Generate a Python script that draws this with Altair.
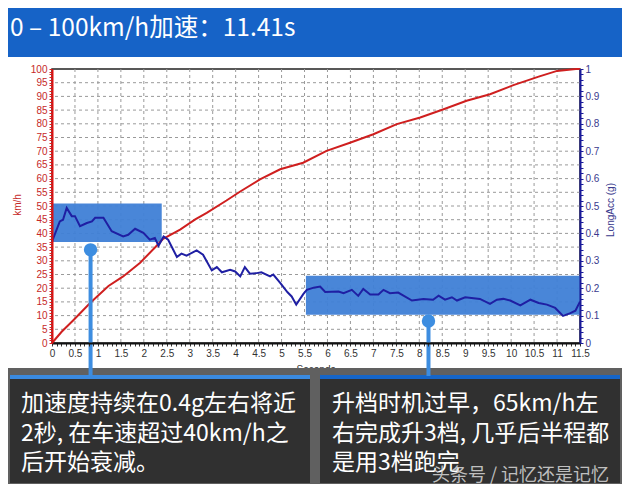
import altair as alt
import pandas as pd

# ---------------- data ----------------
speed_t = [0, 0.21, 0.47, 0.83, 1.23, 1.55, 1.92, 2.28, 2.42, 2.79, 3.12, 3.37, 3.8, 4.1, 4.53,
           4.97, 5.47, 5.98, 6.49, 7.0, 7.51, 8.02, 8.53, 9.03, 9.54, 10.05, 10.6, 11.0, 11.41, 11.5]
speed_v = [0, 4.1, 8.4, 14.6, 20.8, 24.3, 29.3, 35.5, 38.0, 41.4, 45.1, 47.5, 52.0, 55.3, 59.7,
           63.4, 65.8, 70.1, 73.1, 76.2, 79.9, 82.3, 85.3, 88.4, 90.8, 94.1, 97.2, 99.3, 100, 100]

acc_t = [0.0, 0.17, 0.24, 0.32, 0.43, 0.5, 0.61, 0.76, 0.87, 0.94, 1.12, 1.3, 1.55, 1.66, 1.81,
         1.99, 2.13, 2.24, 2.32, 2.43, 2.53, 2.72, 2.82, 2.93, 3.15, 3.29, 3.48, 3.59, 3.7, 3.88,
         3.99, 4.1, 4.2, 4.31, 4.46, 4.56, 4.75, 4.82, 4.97, 5.13, 5.22, 5.32, 5.48, 5.55, 5.7,
         5.84, 5.95, 6.24, 6.35, 6.53, 6.67, 6.78, 6.93, 7.11, 7.22, 7.36, 7.54, 7.84, 8.09, 8.3,
         8.42, 8.56, 8.71, 8.82, 9.0, 9.32, 9.54, 9.69, 9.83, 9.98, 10.2, 10.42, 10.6, 10.78,
         10.96, 11.13, 11.29, 11.4, 11.5]
acc_g = [0.37, 0.444, 0.45, 0.493, 0.463, 0.463, 0.426, 0.438, 0.444, 0.457, 0.457, 0.408, 0.389,
         0.395, 0.417, 0.402, 0.377, 0.383, 0.355, 0.389, 0.377, 0.314, 0.326, 0.319, 0.338, 0.322,
         0.265, 0.277, 0.258, 0.267, 0.261, 0.243, 0.277, 0.253, 0.255, 0.258, 0.243, 0.25, 0.219,
         0.185, 0.17, 0.14, 0.18, 0.194, 0.202, 0.206, 0.186, 0.188, 0.182, 0.194, 0.172, 0.197,
         0.177, 0.177, 0.194, 0.182, 0.184, 0.155, 0.161, 0.158, 0.173, 0.158, 0.167, 0.155, 0.167,
         0.161, 0.143, 0.158, 0.161, 0.155, 0.137, 0.158, 0.146, 0.14, 0.128, 0.099, 0.109, 0.118,
         0.151]

zone_t0 = [0.0, 5.53]
zone_t1 = [2.39, 11.5]
zone_lo = [36.9, 10.3]
zone_hi = [50.9, 24.5]

pin_t = [0.84, 8.2]
pin_v = [34.0, 8.0]

title_text = "0 – 100km/h加速：11.41s"
note_left = ["加速度持续在0.4g左右将近", "2秒, 在车速超过40km/h之", "后开始衰减。"]
note_right = ["升档时机过早，65km/h左", "右完成升3档, 几乎后半程都", "是用3档跑完"]
watermark = "头条号 / 记忆还是记忆"

x_grid_vals = [i * 0.5 for i in range(1, 23)]
y_grid_vals = list(range(5, 100, 5))
x_tick_vals = [round(i * 0.1, 1) for i in range(0, 116)]
y_tick_vals = list(range(0, 101))
g_tick_vals = [round(i * 0.02, 2) for i in range(0, 51)]

# ---------------- frames ----------------
speed_df = pd.DataFrame({"t": speed_t, "v": speed_v})
acc_df = pd.DataFrame({"t": acc_t, "g": acc_g})
zone_df = pd.DataFrame({"t0": zone_t0, "t1": zone_t1, "lo": zone_lo, "hi": zone_hi})
pin_df = pd.DataFrame({"t": pin_t, "v": pin_v})
xg_df = pd.DataFrame({"t": x_grid_vals})
yg_df = pd.DataFrame({"v": y_grid_vals})
one = pd.DataFrame({"k": [0]})

XS = alt.Scale(domain=[0, 11.5], nice=False, zero=False)
YS = alt.Scale(domain=[0, 100], nice=False, zero=False)
GS = alt.Scale(domain=[0, 1], nice=False, zero=False)

LF = "Liberation Sans"
CJK = "Noto Sans CJK SC"
RED = "#cf1f1f"
NAVY = "#1f1fa3"
PIN = "#3d8de0"

x_axis = alt.Axis(
    values=x_tick_vals,
    labelExpr="abs(datum.value*2 - round(datum.value*2)) < 0.001 ? toString(round(datum.value*10)/10) : ''",
    tickSize=3, tickColor="#333", labelColor="#333", labelFont=LF, labelFontSize=10,
    domainColor="#111", domainWidth=2, grid=False, title=None, labelPadding=2,
    labelOverlap=False, labelFlush=False, zindex=1,
)
y_axis = alt.Axis(
    values=y_tick_vals,
    labelExpr="datum.value % 5 === 0 ? toString(datum.value) : ''",
    tickSize=3, tickColor="#d22", labelColor="#c62828", labelFont=LF, labelFontSize=10,
    domainColor="#d11", domainWidth=2, grid=False, title=None, labelPadding=2,
    labelOverlap=False, zindex=1,
)
g_axis = alt.Axis(
    orient="right",
    values=g_tick_vals,
    labelExpr="abs(datum.value*10 - round(datum.value*10)) < 0.001 ? toString(round(datum.value*10)/10) : ''",
    tickSize=3, tickColor="#1a1a9a", labelColor="#3a3a8e", labelFont=LF, labelFontSize=10,
    domainColor="#1a1a9a", domainWidth=2, grid=False, title=None, labelPadding=2,
    labelOverlap=False, zindex=1,
)


def X(field):
    return alt.X(field, type="quantitative", scale=XS, axis=x_axis)


def Y(field):
    return alt.Y(field, type="quantitative", scale=YS, axis=y_axis)


grid_x = alt.Chart(xg_df).mark_rule(color="#9a9a9a", strokeDash=[3, 3], strokeWidth=1).encode(
    x=X("t"))
grid_y = alt.Chart(yg_df).mark_rule(color="#9a9a9a", strokeDash=[3, 3], strokeWidth=1).encode(
    y=Y("v"))

zones = alt.Chart(zone_df).mark_rect(color="#3f7fd6", opacity=0.95).encode(
    x=X("t0"), x2="t1", y=Y("lo"), y2="hi")

speed = alt.Chart(speed_df).mark_line(color=RED, strokeWidth=2).encode(x=X("t"), y=Y("v"))


def box(x1, x2, y1, y2, color):
    return alt.Chart(one).mark_rect(color=color).encode(
        x=alt.value(x1), x2=alt.value(x2), y=alt.value(y1), y2=alt.value(y2))


def label(txt, x, y, size, color, font=CJK, align="left", baseline="middle", angle=0, opacity=1.0,
          line_height=None):
    kw = dict(text=txt, font=font, fontSize=size, color=color, align=align, baseline=baseline,
              opacity=opacity)
    if angle:
        kw["angle"] = angle
    if line_height:
        kw["lineHeight"] = line_height
    return alt.Chart(one).mark_text(**kw).encode(x=alt.value(x), y=alt.value(y))


sec_title = label("Seconds", 264, 296, 10, "#333", font=LF, align="center", baseline="top")
title_bar = box(-60, 600, -80, -12, "#1663c7")
title_lbl = label(title_text, -42, -40, 24.5, "white")
panel = box(-60, 600, 299, 440, "#606060")
lbox = box(-42, 258, 306, 414, "#303030")
lbar = box(-42, 258, 306, 310, "#3a8ae0")
rbox = box(268, 568, 306, 414, "#303030")
rbar = box(268, 568, 306, 310, "#1565c8")
ltext = label(note_left, -31, 335, 23, "white", line_height=29.5)
rtext = label(note_right, 280, 335, 23, "white", line_height=29.5)
wm = label(watermark, 380, 407, 18, "#d8d8d8", opacity=0.85)
km_title = label("km/h", -34, 136, 10, "#c62828", font=LF, align="center", angle=270)
acc_title = label("LongAcc (g)", 559, 141, 10, "#3a3a8e", font=LF, align="center", angle=270)

pin_rule = alt.Chart(pin_df).mark_rule(color=PIN, strokeWidth=4).encode(
    x=X("t"), y=Y("v"), y2=alt.value(307))
pin_dot = alt.Chart(pin_df).mark_circle(color=PIN, size=180, opacity=1).encode(
    x=X("t"), y=Y("v"))

left_part = alt.layer(grid_x, grid_y, zones, speed, sec_title, title_bar, title_lbl, panel,
                      lbox, lbar, rbox, rbar, ltext, rtext, wm, km_title, acc_title,
                      pin_rule, pin_dot)

acc = alt.Chart(acc_df).mark_line(color=NAVY, strokeWidth=2).encode(
    x=X("t"),
    y=alt.Y("g:Q", scale=GS, axis=g_axis))

chart = alt.layer(left_part, acc).resolve_scale(y="independent").properties(
    width=528, height=274,
    padding={"left": 44, "top": 61, "right": 42, "bottom": 141},
    autosize=alt.AutoSizeParams(type="none"),
    background="white",
).configure_view(stroke="#222", strokeWidth=1.5)

chart.save("out.html", embed_options={"renderer": "svg", "actions": False})
